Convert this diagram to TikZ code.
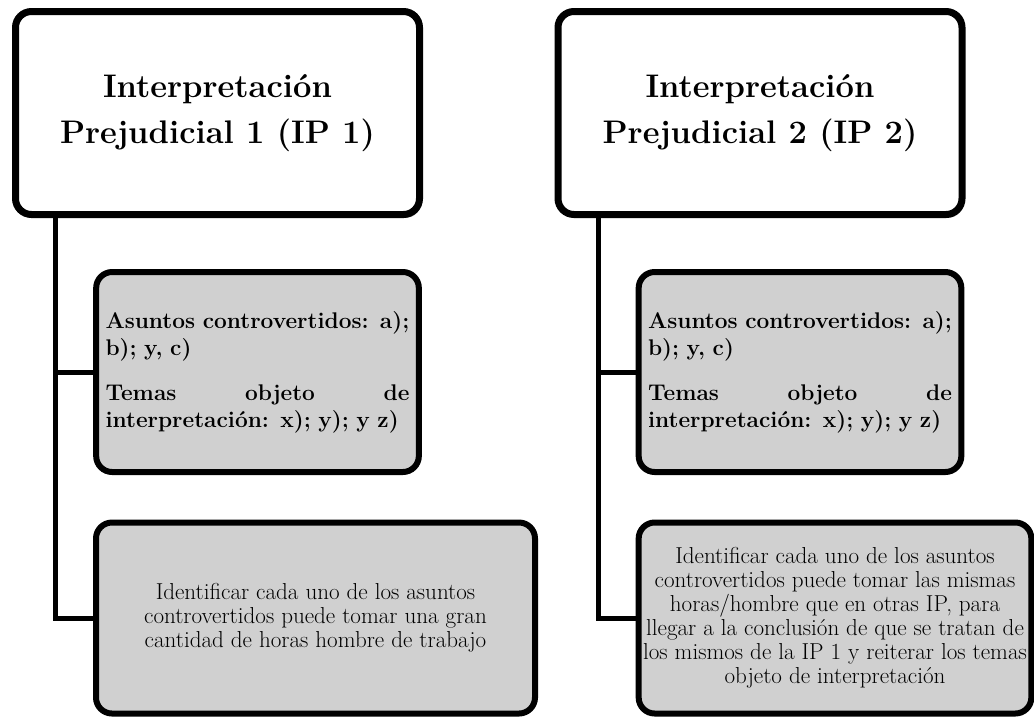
\documentclass[tikz,border=0pt]{standalone}
\usepackage{tikz}
\usetikzlibrary{shadows}
\definecolor{boxgray}{RGB}{208,208,208}

\begin{document}
\begin{tikzpicture} [x = 0.75pt, y = -0.75pt,
  ipbox/.style = {draw, line width = 5.25pt, rounded corners = 12pt, fill = white, align = center,
    minimum width = 303pt, minimum height = 152.25pt,
    drop shadow = {shadow xshift = 1.5pt, shadow yshift = -2.5pt, opacity = 0.3, fill = black},
    font = \fontsize{24.5}{35}\selectfont\bfseries},
  subbox/.style = {draw, line width = 4.5pt, rounded corners = 12pt, fill = boxgray},
  topics/.style = {subbox, minimum width = 242pt, minimum height = 150pt, text width = 228pt,
    align = left, font = \fontsize{17}{20}\selectfont\bfseries},
  effort/.style = {subbox, minimum height = 143.25pt, align = center,
    font = \fontsize{17.3}{18}\selectfont},
  link/.style = {line width = 3.75pt}]
\useasboundingbox (0, 0) rectangle (1034, 719);

\node[ipbox] (ip1) at (217.5, 113) {Interpretación\\Prejudicial 1 (IP 1)};
\node[ipbox] (ip2) at (760.0, 113) {Interpretación\\Prejudicial 2 (IP 2)};

\node[topics] (sub1a) at (257.5, 372) {Asuntos controvertidos: a);\\b); y, c)\\[14pt]Temas\hfill objeto\hfill de\\interpretación: x); y); y z)};
\node[topics] (sub2a) at (800.0, 372) {Asuntos controvertidos: a);\\b); y, c)\\[14pt]Temas\hfill objeto\hfill de\\interpretación: x); y); y z)};

\node[effort, minimum width = 329.25pt] (sub1b) at (315.5, 618) {Identificar cada uno de los asuntos\\controvertidos puede tomar una gran\\cantidad de horas hombre de trabajo};
\node[effort, minimum width = 292.5pt] (sub2b) at (835.0, 618) {Identificar cada uno de los asuntos\\controvertidos puede tomar las mismas\\horas/hombre que en otras IP, para\\llegar a la conclusión de que se tratan de\\los mismos de la IP 1 y reiterar los temas\\objeto de interpretación};

\coordinate (stem1) at (55, 217);
\coordinate (stem2) at (598, 217);
\draw[link] (stem1) |- (sub1b.west);
\draw[link] (stem1 |- sub1a.west) -- (sub1a.west);
\draw[link] (stem2) |- (sub2b.west);
\draw[link] (stem2 |- sub2a.west) -- (sub2a.west);
\end{tikzpicture}
\end{document}
